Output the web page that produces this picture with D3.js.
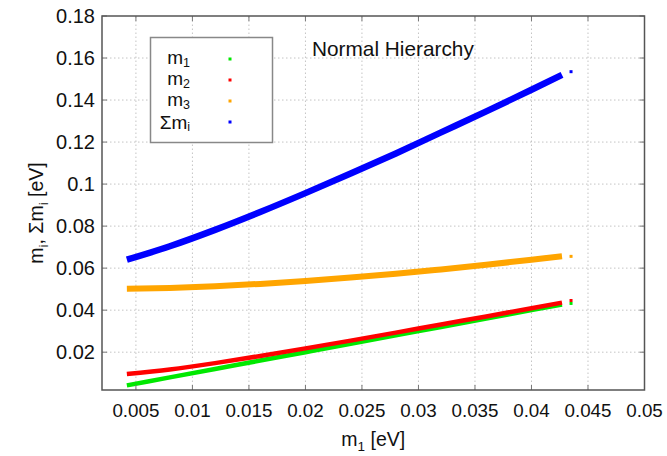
<!DOCTYPE html>
<html>
<head>
<meta charset="utf-8">
<script src="https://cdn.jsdelivr.net/npm/d3@7"></script>
<style>
  body { margin: 0; background: #fff; }
  text { font-family: "Liberation Sans", Arial, sans-serif; fill: #111; }
</style>
</head>
<body>
<div id="chart"></div>
<script>
const width = 667;
const height = 456;
const margin = { top: 16, right: 22.5, bottom: 66, left: 102 };

// values
const m1Values = [0.0042, 0.008, 0.012, 0.016, 0.02, 0.024, 0.028, 0.032, 0.036, 0.04, 0.0427];
const m2Values = [0.0096, 0.0118, 0.0148, 0.0182, 0.0218, 0.0255, 0.0293, 0.0332, 0.037, 0.0409, 0.0436];
const m3Values = [0.0502, 0.0506, 0.0514, 0.0525, 0.0539, 0.0555, 0.0573, 0.0594, 0.0616, 0.064, 0.0657];
const sumValues = [0.064, 0.0704, 0.0782, 0.0867, 0.0957, 0.105, 0.1146, 0.1246, 0.1346, 0.1449, 0.152];
// isolated points at the right end
const loneX = 0.0435;
const loneY = [0.0432, 0.0446, 0.0656, 0.1535];

const xTicks = [0.005, 0.01, 0.015, 0.02, 0.025, 0.03, 0.035, 0.04, 0.045, 0.05];
const yTicks = [0.02, 0.04, 0.06, 0.08, 0.1, 0.12, 0.14, 0.16, 0.18];

const series = [
  { name: "m", sub: "1", values: m1Values, color: "#00e800", w: 4.5 },
  { name: "m", sub: "2", values: m2Values, color: "#ff0000", w: 4.5 },
  { name: "m", sub: "3", values: m3Values, color: "#ffa500", w: 6 },
  { name: "Σm", sub: "i", values: sumValues, color: "#0000ff", w: 6.5 }
];

const x = d3.scaleLinear().domain([0.002, 0.05]).range([margin.left, width - margin.right]);
const y = d3.scaleLinear().domain([0.002, 0.18]).range([height - margin.bottom, margin.top]);

const svg = d3.select("#chart").append("svg")
  .attr("width", width)
  .attr("height", height);

const x0 = margin.left, x1 = width - margin.right;
const y0 = height - margin.bottom, y1 = margin.top;

// grid
svg.append("g").selectAll("line").data(xTicks.slice(0, -1)).join("line")
  .attr("x1", d => x(d)).attr("x2", d => x(d))
  .attr("y1", y0).attr("y2", y1)
  .attr("stroke", "#c4c4c4").attr("stroke-width", 1).attr("stroke-dasharray", "1.5,2.5");
svg.append("g").selectAll("line").data(yTicks.slice(0, -1)).join("line")
  .attr("x1", x0).attr("x2", x1)
  .attr("y1", d => y(d)).attr("y2", d => y(d))
  .attr("stroke", "#c4c4c4").attr("stroke-width", 1).attr("stroke-dasharray", "1.5,2.5");

// series as dense bands
const line = d3.line().x((d, i) => x(m1Values[i])).y(d => y(d)).curve(d3.curveMonotoneX);
series.forEach(s => {
  svg.append("path")
    .datum(s.values)
    .attr("d", line)
    .attr("fill", "none")
    .attr("stroke", s.color)
    .attr("stroke-width", s.w);
});

svg.append("g").selectAll("rect").data(loneY).join("rect")
  .attr("x", x(loneX) - 1.5)
  .attr("y", d => y(d) - 1.5)
  .attr("width", 3).attr("height", 3)
  .attr("fill", (d, i) => series[i].color);

// ticks (inside, mirrored)
const tickLen = 5;
const tickColor = "#777";
xTicks.forEach(t => {
  svg.append("line").attr("x1", x(t)).attr("x2", x(t)).attr("y1", y0).attr("y2", y0 - tickLen)
    .attr("stroke", tickColor).attr("stroke-width", 1);
  svg.append("line").attr("x1", x(t)).attr("x2", x(t)).attr("y1", y1).attr("y2", y1 + tickLen)
    .attr("stroke", tickColor).attr("stroke-width", 1);
});
yTicks.forEach(t => {
  svg.append("line").attr("x1", x0).attr("x2", x0 + tickLen).attr("y1", y(t)).attr("y2", y(t))
    .attr("stroke", tickColor).attr("stroke-width", 1);
  svg.append("line").attr("x1", x1).attr("x2", x1 - tickLen).attr("y1", y(t)).attr("y2", y(t))
    .attr("stroke", tickColor).attr("stroke-width", 1);
});

// frame
svg.append("rect")
  .attr("x", x0).attr("y", y1)
  .attr("width", x1 - x0).attr("height", y0 - y1)
  .attr("fill", "none").attr("stroke", "#555").attr("stroke-width", 1.5);

// tick labels
svg.append("g").selectAll("text").data(xTicks).join("text")
  .attr("x", d => x(d)).attr("y", y0 + 27)
  .attr("text-anchor", "middle")
  .attr("font-size", 18.8)
  .text(d => String(d));
svg.append("g").selectAll("text").data(yTicks).join("text")
  .attr("x", x0 - 7).attr("y", d => y(d) + 7)
  .attr("text-anchor", "end")
  .attr("font-size", 20)
  .text(d => String(d));

// axis titles
const xl = svg.append("text")
  .attr("x", (x0 + x1) / 2).attr("y", 446)
  .attr("text-anchor", "middle").attr("font-size", 19.5);
xl.append("tspan").text("m");
xl.append("tspan").attr("font-size", 13.5).attr("dy", 5).text("1");
xl.append("tspan").attr("dy", -5).text(" [eV]");

const yl = svg.append("text")
  .attr("transform", `translate(43, ${(y0 + y1) / 2 + 10}) rotate(-90)`)
  .attr("text-anchor", "middle").attr("font-size", 19.5);
yl.append("tspan").text("m");
yl.append("tspan").attr("font-size", 13.5).attr("dy", 5).text("i");
yl.append("tspan").attr("dy", -5).text(", Σm");
yl.append("tspan").attr("font-size", 13.5).attr("dy", 5).text("i");
yl.append("tspan").attr("dy", -5).text(" [eV]");

// title
svg.append("text")
  .attr("x", 312).attr("y", 56)
  .attr("font-size", 20.8)
  .text("Normal Hierarchy");

// legend
svg.append("rect")
  .attr("x", 150.5).attr("y", 37.5).attr("width", 122).attr("height", 105)
  .attr("fill", "#fff").attr("stroke", "#888").attr("stroke-width", 1.5);
const legendRows = [64, 85, 106, 128.5];
series.forEach((s, i) => {
  const ty = legendRows[i];
  const t = svg.append("text")
    .attr("x", 190).attr("y", ty)
    .attr("text-anchor", "end").attr("font-size", 19);
  t.append("tspan").text(s.name);
  t.append("tspan").attr("font-size", 12.5).attr("dy", 2.5).text(s.sub);
  svg.append("rect")
    .attr("x", 228.5).attr("y", 57.5 + i * 21)
    .attr("width", 3).attr("height", 3)
    .attr("fill", s.color);
});
</script>
</body>
</html>
